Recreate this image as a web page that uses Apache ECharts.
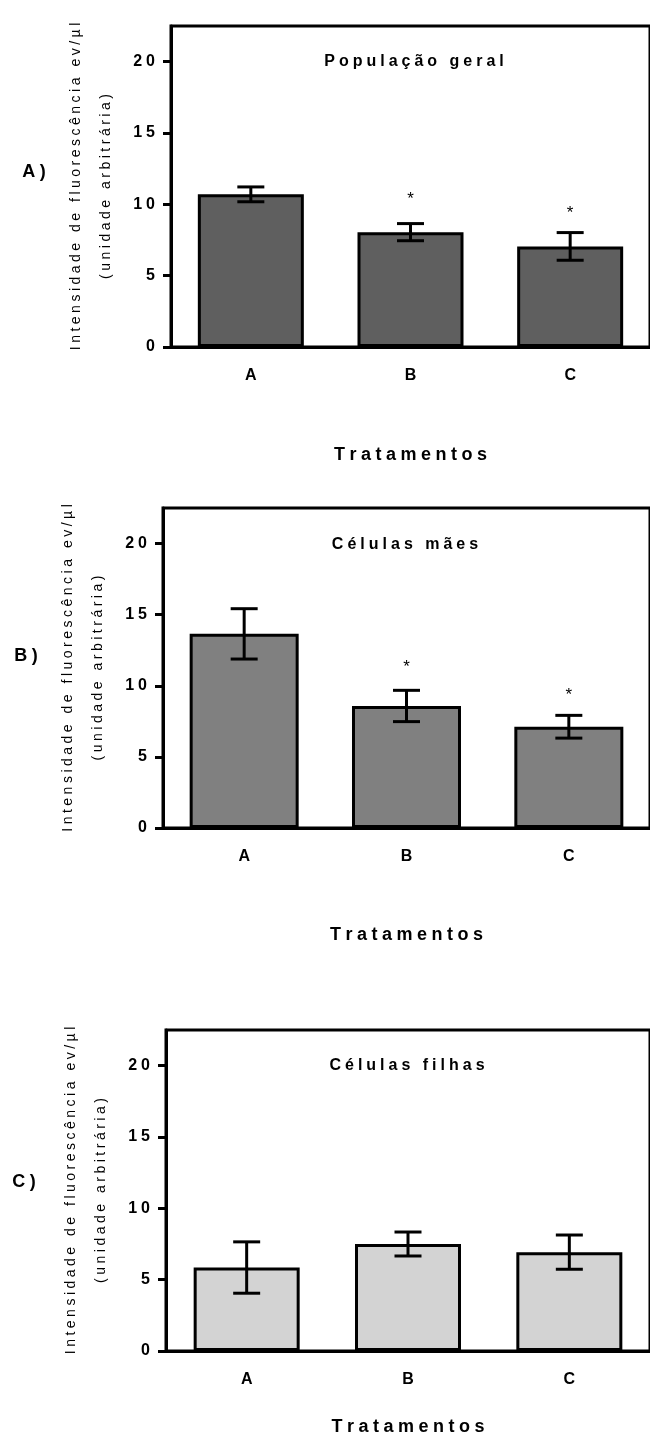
<!DOCTYPE html>
<html>
<head>
<meta charset="utf-8">
<script src="https://cdn.jsdelivr.net/npm/echarts@6/dist/echarts.min.js"></script>
<style>
html, body { margin: 0; padding: 0; background: #fff; }
#main { width: 650px; height: 1438px; }
</style>
</head>
<body>
<div id="main"></div>
<script>
// dados
var categorias = ['A', 'B', 'C'];

var mediaGeral = [10.7, 8.05, 7.05];
var erroGeral = [0.52, 0.6, 0.97];
var estrelasGeral = [[1, 10.55], [2, 9.6]];

var mediaMaes = [13.65, 8.58, 7.12];
var erroMaes = [1.77, 1.1, 0.8];
var estrelasMaes = [[1, 11.48], [2, 9.54]];

var mediaFilhas = [5.85, 7.5, 6.93];
var erroFilhas = [1.8, 0.84, 1.2];
var estrelasFilhas = [];

var titulos = ['População geral', 'Células mães', 'Células filhas'];
var rotulosPainel = ['A)', 'B)', 'C)'];
var nomeX = 'Tratamentos';
var nomeY1 = 'Intensidade de fluorescência ev/µl';
var nomeY2 = '(unidade arbitrária)';
var yMin = 0, yMax = 22.5;
var yTicks = [0, 5, 10, 15, 20];

var fonte = 'Arial, "Liberation Sans", Helvetica, sans-serif';

// espaçamento entre letras (como no Prism)
function esp(s) {
    return s.split('').join('\u2005');
}

var paineis = [
    { media: mediaGeral, erro: erroGeral, estrelas: estrelasGeral, cor: '#5f5f5f',
      grid: { left: 171, top: 26, width: 484, height: 321 }, barW: 106, gapX: 99,
      titulo: [414, 62], rotulo: [34, 172] },
    { media: mediaMaes, erro: erroMaes, estrelas: estrelasMaes, cor: '#808080',
      grid: { left: 163, top: 508, width: 494, height: 320 }, barW: 109, gapX: 98,
      titulo: [405, 545], rotulo: [26, 656] },
    { media: mediaFilhas, erro: erroFilhas, estrelas: estrelasFilhas, cor: '#d3d3d3',
      grid: { left: 166, top: 1030, width: 494, height: 321 }, barW: 106, gapX: 67,
      titulo: [407, 1066], rotulo: [24, 1182] }
];

var grids = [], xAxes = [], yAxes = [], series = [], graficos = [];

paineis.forEach(function (p, i) {
    grids.push({
        left: p.grid.left, top: p.grid.top, width: p.grid.width, height: p.grid.height,
        show: true, borderColor: '#000', borderWidth: 3
    });
    xAxes.push({
        type: 'category', gridIndex: i, data: categorias,
        axisLine: { lineStyle: { color: '#000', width: 3 } },
        axisTick: { alignWithLabel: true, length: 8, lineStyle: { color: '#000', width: 3 } },
        axisLabel: { color: '#000', fontWeight: 'bold', fontSize: 16, margin: 21, fontFamily: fonte },
        name: esp(nomeX), nameLocation: 'middle', nameGap: p.gapX,
        nameTextStyle: { color: '#000', fontWeight: 'bold', fontSize: 18, fontFamily: fonte }
    });
    yAxes.push({
        type: 'value', gridIndex: i, min: yMin, max: yMax,
        splitLine: { show: false },
        axisLine: { show: true, lineStyle: { color: '#000', width: 3 } },
        axisTick: { show: true, length: 8, customValues: yTicks, lineStyle: { color: '#000', width: 3 } },
        axisLabel: {
            color: '#000', fontWeight: 'bold', fontSize: 16, margin: 16, fontFamily: fonte,
            customValues: yTicks,
            formatter: function (v) { return esp(String(v)); }
        },
        name: esp(nomeY1) + '\n' + esp(nomeY2), nameLocation: 'middle', nameGap: 50,
        nameTextStyle: { color: '#000', fontSize: 14, lineHeight: 30, fontFamily: fonte }
    });

    series.push({
        type: 'bar', xAxisIndex: i, yAxisIndex: i, data: p.media, barWidth: p.barW,
        itemStyle: { color: p.cor, borderColor: '#000', borderWidth: 3 },
        silent: true
    });

    // barras de erro (média ± EPM)
    series.push({
        type: 'custom', xAxisIndex: i, yAxisIndex: i,
        data: p.media.map(function (m, k) { return [k, m - p.erro[k], m + p.erro[k]]; }),
        renderItem: function (params, api) {
            var lo = api.coord([api.value(0), api.value(1)]);
            var hi = api.coord([api.value(0), api.value(2)]);
            var w = 13.5;
            var st = { stroke: '#000', lineWidth: 3 };
            return {
                type: 'group',
                children: [
                    { type: 'line', shape: { x1: lo[0], y1: lo[1], x2: hi[0], y2: hi[1] }, style: st },
                    { type: 'line', shape: { x1: lo[0] - w, y1: lo[1], x2: lo[0] + w, y2: lo[1] }, style: st },
                    { type: 'line', shape: { x1: hi[0] - w, y1: hi[1], x2: hi[0] + w, y2: hi[1] }, style: st }
                ]
            };
        },
        z: 3, silent: true
    });

    // asteriscos de significância
    series.push({
        type: 'custom', xAxisIndex: i, yAxisIndex: i, data: p.estrelas,
        renderItem: function (params, api) {
            var pt = api.coord([api.value(0), api.value(1)]);
            return {
                type: 'text', x: pt[0], y: pt[1] + 3,
                style: { text: '*', fill: '#000', font: '17px ' + fonte, align: 'center', verticalAlign: 'middle' }
            };
        },
        z: 3, silent: true
    });

    graficos.push({
        type: 'text', x: p.titulo[0], y: p.titulo[1],
        style: { text: esp(titulos[i]), fill: '#000', font: 'bold 16px ' + fonte, align: 'center', verticalAlign: 'middle' }
    });
    graficos.push({
        type: 'text', x: p.rotulo[0], y: p.rotulo[1],
        style: { text: esp(rotulosPainel[i]), fill: '#000', font: 'bold 18px ' + fonte, align: 'center', verticalAlign: 'middle' }
    });
});

var chart = echarts.init(document.getElementById('main'));
chart.setOption({
    animation: false,
    backgroundColor: '#fff',
    grid: grids,
    xAxis: xAxes,
    yAxis: yAxes,
    series: series,
    graphic: graficos
});
</script>
</body>
</html>
